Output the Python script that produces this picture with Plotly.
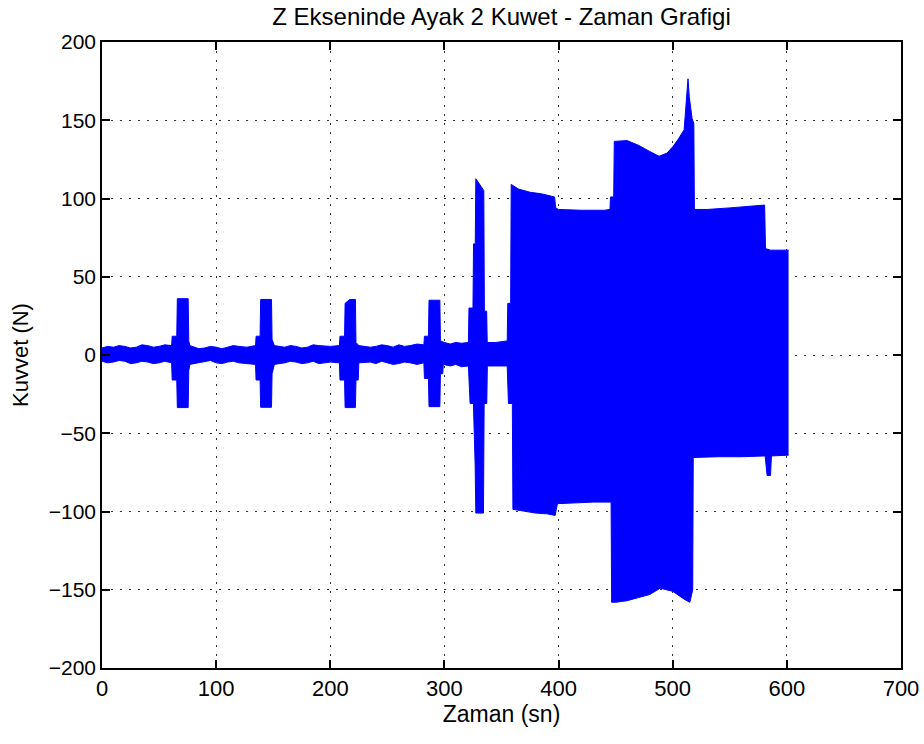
import plotly.graph_objects as go

# Upper envelope of the leg-2 Z-axis force signal (time in s, force in N)
t_upper = [0, 5, 10, 15, 20, 25, 30, 35, 40, 45, 50, 55, 61, 61.5, 65.5, 66, 75.5, 76, 77,
           85, 90, 95, 100, 105, 110, 115, 120, 127, 134.5, 135, 138.5, 139, 148.5, 149, 151,
           160, 165, 170, 175, 180, 185, 190, 200, 208, 208.5, 212.5, 213, 217, 222, 222.5, 225,
           235, 240, 245, 250, 255, 260, 265, 270, 276, 282, 282.5, 286, 286.5, 296, 296.5, 300,
           305, 310, 315, 321,
           321.5, 325, 325.5, 327, 327.5, 330, 334.5, 335, 337, 337.5, 345, 355,
           355.5, 358, 358.5, 365, 375, 385, 396.5, 397.5, 400, 420, 440, 445,
           445.5, 448.3, 448.8, 460, 470, 480, 488, 495, 500, 505, 510, 513.4,
           514.5, 517, 518.5, 519, 530, 550, 570, 580.5, 581.3, 585.7, 590, 601.5]
f_upper = [4.5, 5.5, 5, 6, 5.5, 4.5, 5, 6.5, 6, 5, 5.5, 6.5, 6, 12, 12, 36, 36, 9, 6,
           4, 4.5, 5.5, 5, 4, 5, 6, 5.5, 5, 6, 12, 12, 35.5, 35.5, 10, 6,
           5, 6, 5.5, 4.5, 5, 6.5, 6, 5.5, 6, 12, 12, 33, 35.5, 35.5, 8, 6,
           5, 5.5, 6.5, 6, 5, 6.5, 5.5, 6, 7, 6.5, 12, 12, 35, 35, 9, 8,
           7, 8, 7.5, 8,
           30, 30, 71, 71, 112.6, 110, 105, 28, 28, 8, 8, 9,
           33, 33, 109, 106, 104, 103, 101, 94, 93, 92.5, 92.5, 93,
           101, 101, 136.5, 137, 134, 130, 127, 129, 133, 138, 144, 176.5,
           165, 151, 148, 93, 93, 94, 95, 95.8, 68, 67, 67, 67]

# Lower envelope of the same signal
t_lower = [0, 5, 10, 15, 20, 25, 30, 35, 40, 45, 50, 55, 61, 61.5, 65.5, 66, 75.5, 76, 77,
           85, 90, 95, 100, 105, 110, 115, 120, 127, 134.5, 135, 138.5, 139, 148.5, 149, 151,
           160, 165, 170, 175, 180, 185, 190, 200, 208, 208.5, 212.5, 213, 222, 222.5, 224.5, 225,
           235, 240, 245, 250, 255, 260, 265, 270, 276, 282, 282.5, 286, 286.5, 296, 296.5, 298.5,
           299, 305, 310, 315, 321,
           322.5, 325.4, 326.9, 327.5, 334.2, 334.8, 337.1, 337.6, 345, 355,
           356.1, 359.5, 360, 370, 380, 390, 397, 399, 410, 430, 446,
           446.5, 450, 460, 470, 480, 489, 500, 510, 512.6, 515,
           517.5, 518, 540, 560, 581, 582.7, 585.7, 586.5, 601.5]
f_lower = [-4, -5, -4.5, -3.5, -4, -5.5, -5, -4, -4.5, -5.5, -5, -4, -5, -16, -16, -33.6, -33.6, -10, -6,
           -5, -4.5, -3.5, -5, -5.5, -4.5, -4, -5, -5.5, -6, -16, -16, -33.4, -33.4, -12, -6,
           -5, -4, -4.5, -5.5, -5, -4, -5.5, -4.5, -5, -16, -16, -33.6, -33.6, -16, -16, -5,
           -4.5, -5.5, -4, -5, -6, -5.5, -4.5, -5, -6, -5, -15, -15, -33, -33, -12, -12,
           -6, -7, -6, -7.5, -7,
           -31, -31, -70, -101, -101, -31, -31, -7, -7, -7,
           -31, -31, -98.6, -100, -101, -101.5, -102.5, -95, -94.5, -94, -94,
           -158, -158, -157, -155, -153, -149, -151, -156, -157, -158,
           -150, -65.5, -65, -65, -64.5, -77, -77, -64.5, -64]

x_ticks = [0, 100, 200, 300, 400, 500, 600, 700]
y_ticks = [-200, -150, -100, -50, 0, 50, 100, 150, 200]

BLUE = "#0000FF"
FONT = "Liberation Sans, Arial, sans-serif"

fig = go.Figure()
fig.add_trace(go.Scatter(x=t_lower, y=f_lower, mode="lines",
                         line=dict(color=BLUE, width=1), hoverinfo="skip",
                         showlegend=False))
fig.add_trace(go.Scatter(x=t_upper, y=f_upper, mode="lines",
                         line=dict(color=BLUE, width=1), fill="tonexty",
                         fillcolor=BLUE, hoverinfo="skip", showlegend=False))

axis_common = dict(
    showline=True, linecolor="black", linewidth=1.5, mirror="ticks",
    ticks="inside", ticklen=8, tickwidth=1.5, tickcolor="black",
    showgrid=True, gridcolor="#333333", gridwidth=1, griddash="2px,7px",
    zeroline=False, automargin=False,
)

fig.update_layout(
    width=924, height=744,
    paper_bgcolor="white", plot_bgcolor="white",
    margin=dict(l=102, r=23, t=42, b=76),
    font=dict(family=FONT, color="black"),
    title=dict(text="Z Ekseninde Ayak 2 Kuwet - Zaman Grafigi",
               x=0.5, xref="paper", y=1 - 17 / 744, yref="container",
               xanchor="center", yanchor="middle",
               font=dict(family=FONT, size=24, color="black")),
    xaxis=dict(range=[0, 700], tickvals=x_ticks,
               tickfont=dict(size=22, color="black"),
               title=dict(text="Zaman (sn)", font=dict(size=23, color="black"),
                          standoff=6),
               **axis_common),
    yaxis=dict(range=[-200, 200], tickvals=y_ticks,
               tickfont=dict(size=21, color="black"),
               title=dict(text="Kuvvet (N)", font=dict(size=22, color="black"),
                          standoff=14),
               **axis_common),
)

fig.write_html("out.html")
